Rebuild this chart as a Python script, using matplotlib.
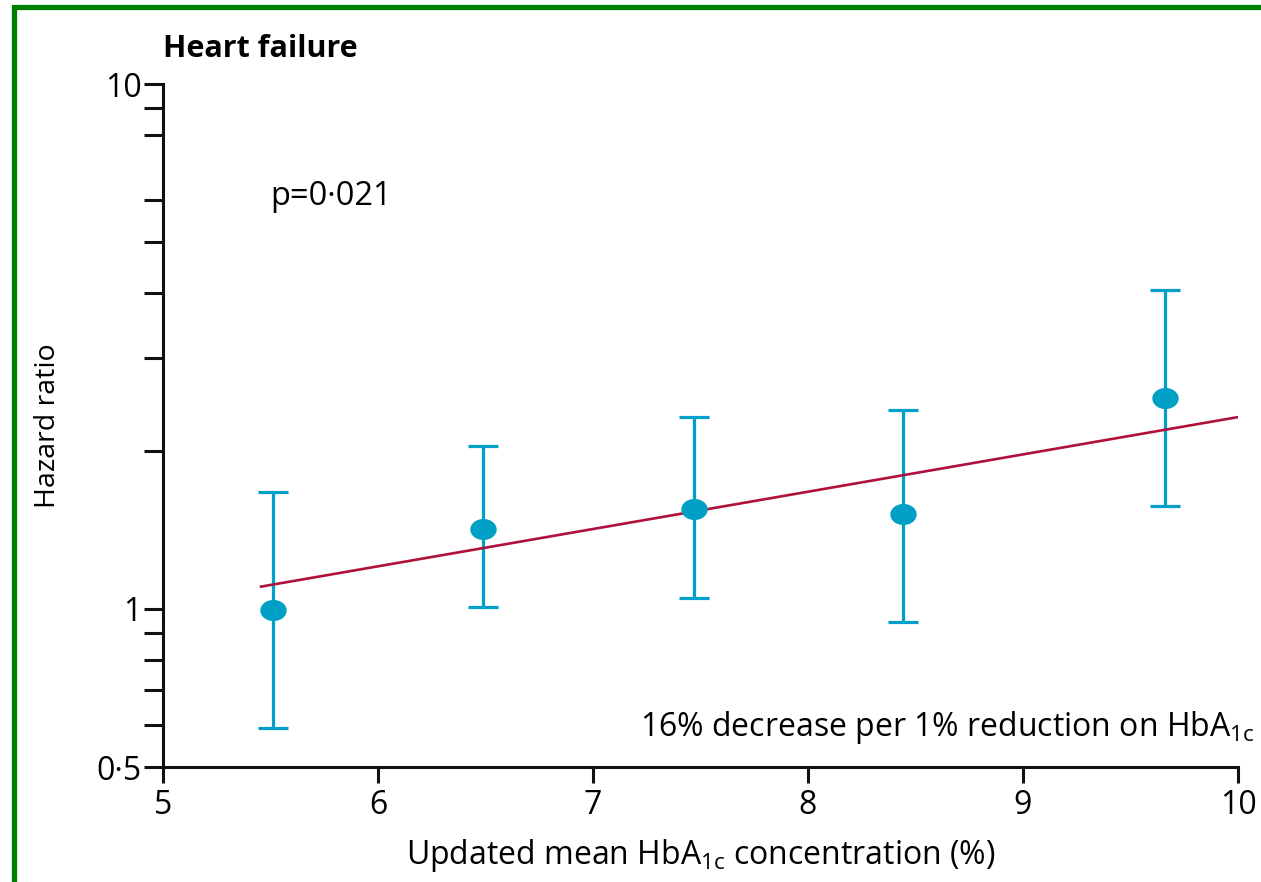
import numpy as np
import matplotlib
matplotlib.use('Agg')
import matplotlib.pyplot as plt
from matplotlib.patches import Rectangle
from matplotlib.path import Path
from matplotlib.transforms import Affine2D
from matplotlib.ticker import FixedLocator, NullFormatter

plt.rcParams['font.family'] = ['Open Sans', 'DejaVu Sans']
plt.rcParams['mathtext.fontset'] = 'custom'
plt.rcParams['mathtext.rm'] = 'Open Sans'

# Hazard ratios by category of updated mean HbA1c
hba1c = [5.51, 6.49, 7.47, 8.44, 9.66]
hr = [0.996, 1.42, 1.55, 1.52, 2.52]
hr_low = [0.593, 1.01, 1.048, 0.946, 1.57]
hr_high = [1.67, 2.04, 2.32, 2.39, 4.05]

# Fitted trend line (end points)
fit_x = [5.456, 10.0]
fit_hr = [1.103, 2.32]

x_ticks = [5, 6, 7, 8, 9, 10]
y_major = [0.5, 1, 10]
y_major_labels = ['0·5', '1', '10']
y_minor = [0.6, 0.7, 0.8, 0.9, 2, 3, 4, 5, 6, 8, 9]

blue = '#00a0c8'
red = '#b0103c'

fig = plt.figure(figsize=(12.61, 8.82), dpi=100)
ax = fig.add_axes([163/1261, 1 - 767/882, (1238 - 163)/1261, (767 - 84)/882])

# Error bars and points (slightly wide ellipse marker)
yerr = [np.array(hr) - np.array(hr_low), np.array(hr_high) - np.array(hr)]
ax.errorbar(hba1c, hr, yerr=yerr, fmt='none', ecolor=blue, elinewidth=2.3,
            capsize=11, capthick=2.3, zorder=2)
ellipse = Path.unit_circle().transformed(Affine2D().scale(1.25, 1.0))
ax.plot(hba1c, hr, linestyle='none', marker=ellipse, markersize=19,
        color='#009fc6', markeredgewidth=0, zorder=4)

ax.plot(fit_x, fit_hr, color=red, linewidth=1.9, zorder=3)

# Axes and scales
ax.set_yscale('log')
ax.set_xlim(5, 10)
ax.set_ylim(0.5, 10)
ax.set_xticks(x_ticks)
ax.set_xticklabels([str(t) for t in x_ticks])
ax.yaxis.set_major_locator(FixedLocator(y_major))
ax.set_yticklabels(y_major_labels)
ax.yaxis.set_minor_locator(FixedLocator(y_minor))
ax.yaxis.set_minor_formatter(NullFormatter())

for side in ['top', 'right']:
    ax.spines[side].set_visible(False)
for side in ['left', 'bottom']:
    ax.spines[side].set_linewidth(2.2)
    ax.spines[side].set_color('#111111')

ax.tick_params(axis='x', length=11.5, width=2.2, color='#111111',
               labelsize=23, pad=4)
ax.tick_params(axis='y', which='both', length=13.5, width=2.2,
               color='#111111', labelsize=23, pad=2)

ax.set_xlabel('Updated mean HbA$_{\\mathregular{1c}}$ concentration (%)',
              fontsize=23, labelpad=11)
ax.set_ylabel('Hazard ratio', fontsize=20.5, labelpad=25)

# Annotations
fig.text(163/1261, 1 - 49/882, 'Heart failure', fontsize=22,
         fontweight='bold', va='center', ha='left')
ax.text(5.5, 6.1, 'p=0·021', fontsize=23.5, va='center', ha='left')
ax.text(1255/1261, 1 - 728/882,
        '16% decrease per 1% reduction on HbA$_{\\mathregular{1c}}$',
        transform=fig.transFigure, fontsize=23, va='center', ha='right')

# Green frame around the panel
frame = Rectangle((14/1261, -0.2), 1.2, 1.2 - 7/882, transform=fig.transFigure,
                  fill=False, edgecolor='#008000', linewidth=3.8, clip_on=False)
fig.patches.append(frame)

fig.savefig('out.png', dpi=100, facecolor='white')
